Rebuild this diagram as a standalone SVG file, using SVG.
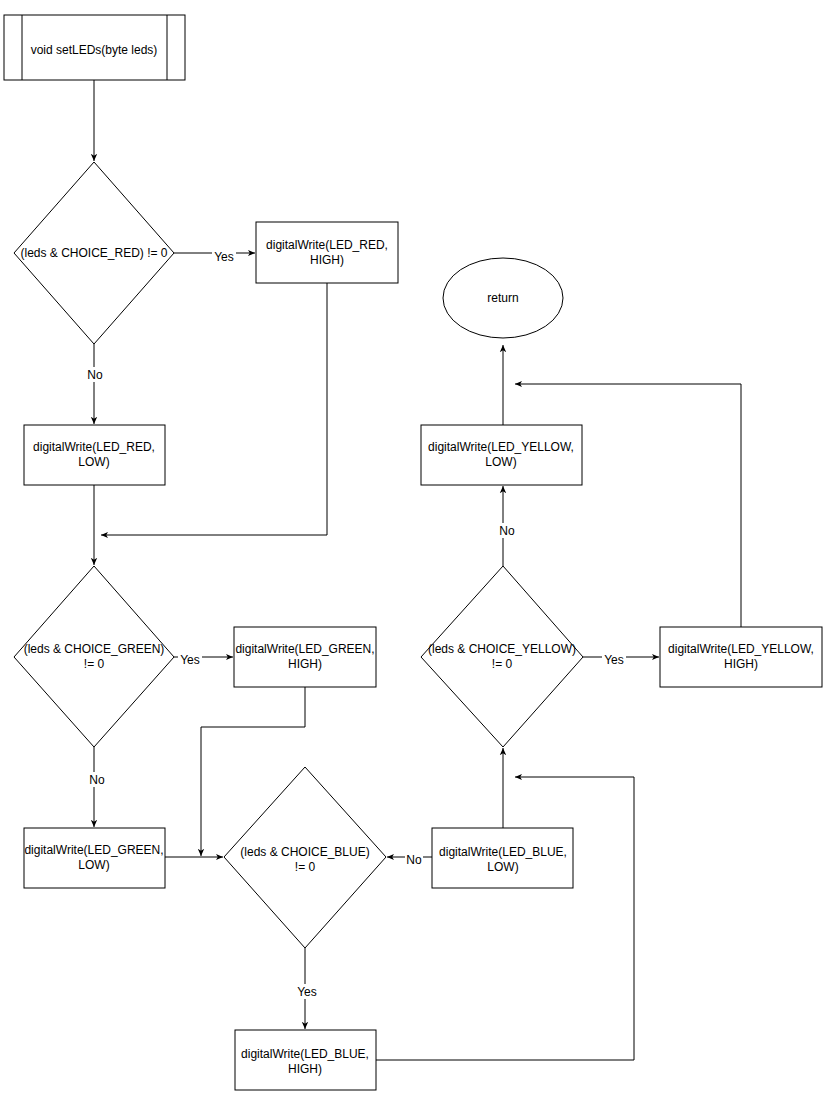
<svg xmlns="http://www.w3.org/2000/svg" width="826" height="1109" viewBox="0 0 826 1109">
<style>
.s{fill:#fff;stroke:#000;stroke-width:1}
.c{fill:none;stroke:#000;stroke-width:1;marker-end:url(#a)}
text{font-family:"Liberation Sans",Arial,sans-serif;font-size:12px;fill:#000;text-anchor:middle}
.lb{fill:#fff}
</style>
<defs><marker id="a" viewBox="0 0 10 10" refX="9" refY="5" markerWidth="8" markerHeight="8" orient="auto"><path d="M0,1 L9,5 L0,9 L2.5,5 Z" fill="#000"/></marker></defs>
<rect width="826" height="1109" fill="#fff"/>
<g id="connectors">
<path class="c" d="M94,80 V161"/>
<path class="c" d="M174,253 H255"/>
<path class="c" d="M94,344 V424"/>
<path class="c" d="M94,485 V565"/>
<path class="c" d="M327,283 V535 H101"/>
<path class="c" d="M174,657 H233"/>
<path class="c" d="M94,747 V827"/>
<path class="c" d="M165,857 H223"/>
<path class="c" d="M305,687 V727 H201 V856"/>
<path class="c" d="M432,857 H387"/>
<path class="c" d="M305,948 V1029"/>
<path class="c" d="M376,1060 H634 V777 H515"/>
<path class="c" d="M503,828 V748"/>
<path class="c" d="M583,657 H659"/>
<path class="c" d="M503,566 V486"/>
<path class="c" d="M503,425 V345"/>
<path class="c" d="M741,627 V384 H515"/>
<rect class="lb" x="212" y="248" width="24" height="15"/><text x="224" y="261">Yes</text>
<rect class="lb" x="86" y="367" width="18" height="15"/><text x="95" y="379">No</text>
<rect class="lb" x="178" y="652" width="24" height="15"/><text x="190" y="664">Yes</text>
<rect class="lb" x="88" y="772" width="18" height="15"/><text x="97" y="784">No</text>
<rect class="lb" x="405" y="852" width="18" height="15"/><text x="414" y="864">No</text>
<rect class="lb" x="295" y="984" width="24" height="15"/><text x="307" y="996">Yes</text>
<rect class="lb" x="602" y="652" width="24" height="15"/><text x="614" y="664">Yes</text>
<rect class="lb" x="498" y="523" width="18" height="15"/><text x="507" y="535">No</text>
</g>
<g id="start"><rect class="s" x="4" y="15" width="181" height="65"/><path class="s" d="M22,15 V80 M167,15 V80"/><text x="94" y="54">void setLEDs(byte leds)</text></g>
<g id="d1"><path class="s" d="M94,162 L174,253 L94,344 L14,253 Z"/><text x="94" y="257">(leds &amp; CHOICE_RED) != 0</text></g>
<g id="redHigh"><rect class="s" x="256" y="222" width="142" height="61"/><text x="327" y="249">digitalWrite(LED_RED,</text><text x="327" y="264">HIGH)</text></g>
<g id="redLow"><rect class="s" x="24" y="425" width="141" height="60"/><text x="94" y="451">digitalWrite(LED_RED,</text><text x="94" y="466">LOW)</text></g>
<g id="d2"><path class="s" d="M94,566 L174,657 L94,747 L14,657 Z"/><text x="94" y="653">(leds &amp; CHOICE_GREEN)</text><text x="94" y="668">!= 0</text></g>
<g id="greenHigh"><rect class="s" x="234" y="627" width="142" height="60"/><text x="305" y="653">digitalWrite(LED_GREEN,</text><text x="305" y="668">HIGH)</text></g>
<g id="greenLow"><rect class="s" x="24" y="828" width="141" height="60"/><text x="94" y="854">digitalWrite(LED_GREEN,</text><text x="94" y="869">LOW)</text></g>
<g id="d3"><path class="s" d="M305,767 L386,857 L305,948 L224,857 Z"/><text x="305" y="856">(leds &amp; CHOICE_BLUE)</text><text x="305" y="871">!= 0</text></g>
<g id="blueLow"><rect class="s" x="432" y="828" width="141" height="60"/><text x="503" y="856">digitalWrite(LED_BLUE,</text><text x="503" y="871">LOW)</text></g>
<g id="blueHigh"><rect class="s" x="235" y="1030" width="141" height="60"/><text x="305" y="1058">digitalWrite(LED_BLUE,</text><text x="305" y="1073">HIGH)</text></g>
<g id="d4"><path class="s" d="M503,566 L583,657 L503,747 L421,657 Z"/><text x="502" y="653">(leds &amp; CHOICE_YELLOW)</text><text x="502" y="668">!= 0</text></g>
<g id="yellowHigh"><rect class="s" x="660" y="627" width="162" height="60"/><text x="741" y="653">digitalWrite(LED_YELLOW,</text><text x="741" y="668">HIGH)</text></g>
<g id="yellowLow"><rect class="s" x="421" y="425" width="161" height="60"/><text x="501" y="451">digitalWrite(LED_YELLOW,</text><text x="501" y="466">LOW)</text></g>
<g id="return"><ellipse class="s" cx="503" cy="298" rx="60" ry="40"/><text x="503" y="302">return</text></g>
</svg>
